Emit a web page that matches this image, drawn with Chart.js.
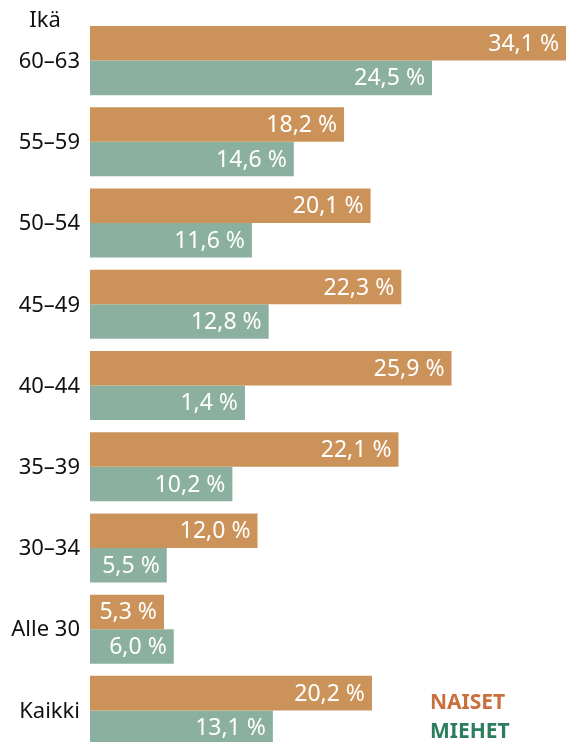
<!DOCTYPE html>
<html>
<head>
<meta charset="utf-8">
<script src="https://cdn.jsdelivr.net/npm/chart.js@4/dist/chart.umd.min.js"></script>
<style>
  html, body { margin: 0; padding: 0; background: #fff; overflow: hidden; }
  #wrap { width: 566px; height: 752px; }
</style>
</head>
<body>
<div id="wrap"><canvas id="myChart" width="566" height="752"></canvas></div>
<script>
'use strict'

// age groups, top to bottom
let ageGroups = ['60–63', '55–59', '50–54', '45–49', '40–44', '35–39', '30–34', 'Alle 30', 'Kaikki'];
// bar lengths
let naisetValues = [34.1, 18.2, 20.1, 22.3, 25.9, 22.1, 12.0, 5.3, 20.2];
let miehetValues = [24.5, 14.6, 11.6, 12.8, 11.1, 10.2, 5.5, 6.0, 13.1];
// printed labels (40–44 men label is printed as 1,4 % in the source)
let naisetLabels = ['34,1 %', '18,2 %', '20,1 %', '22,3 %', '25,9 %', '22,1 %', '12,0 %', '5,3 %', '20,2 %'];
let miehetLabels = ['24,5 %', '14,6 %', '11,6 %', '12,8 %', '1,4 %', '10,2 %', '5,5 %', '6,0 %', '13,1 %'];

let fontFamily = '"Noto Sans", "Open Sans", sans-serif';

// writes the value text inside the end of every bar, the age labels, the "Ikä" header and legend
const barText = {
  id: 'barText',
  afterDatasetsDraw(chart) {
    let ctx = chart.ctx;
    let labelSets = [naisetLabels, miehetLabels];
    ctx.save();
    ctx.font = '23px ' + fontFamily;
    ctx.fillStyle = '#ffffff';
    ctx.textAlign = 'right';
    ctx.textBaseline = 'middle';
    chart.data.datasets.forEach(function (ds, i) {
      let meta = chart.getDatasetMeta(i);
      meta.data.forEach(function (bar, j) {
        ctx.fillText(labelSets[i][j], bar.x - 7, bar.y + 1);
      });
    });

    // age labels left of the bars
    let yScale = chart.scales.y;
    ctx.fillStyle = '#111111';
    ctx.font = '22px ' + fontFamily;
    ageGroups.forEach(function (label, k) {
      ctx.fillText(label, 80, yScale.getPixelForValue(k) + 1);
    });

    // header above the age labels
    ctx.textAlign = 'center';
    ctx.textBaseline = 'alphabetic';
    ctx.fillText('Ikä', 45, 27);

    // legend text bottom right
    ctx.textAlign = 'left';
    ctx.font = 'bold 21px ' + fontFamily;
    ctx.fillStyle = '#c9703e';
    ctx.fillText('NAISET', 430, 709);
    ctx.fillStyle = '#2b7d5e';
    ctx.fillText('MIEHET', 430, 738);
    ctx.restore();
  }
};

const data = {
  labels: ageGroups,
  datasets: [{
    label: 'Naiset',
    data: naisetValues,
    backgroundColor: '#cb935a',
    borderWidth: 0
  },
  {
    label: 'Miehet',
    data: miehetValues,
    backgroundColor: '#8bb09f',
    borderWidth: 0
  }]
};

const config = {
  type: 'bar',
  data: data,
  options: {
    indexAxis: 'y',
    responsive: false,
    animation: false,
    barPercentage: 1.0,
    categoryPercentage: 0.85,
    layout: { padding: { top: 20, bottom: 1, left: 90, right: 0 } },
    plugins: {
      legend: { display: false },
      tooltip: { enabled: false }
    },
    scales: {
      x: {
        display: false,
        min: 0,
        max: 34.1
      },
      y: {
        display: false
      }
    }
  },
  plugins: [barText]
};

let canvasChart = document.getElementById('myChart');
const myChart = new Chart(canvasChart, config);
</script>
</body>
</html>
